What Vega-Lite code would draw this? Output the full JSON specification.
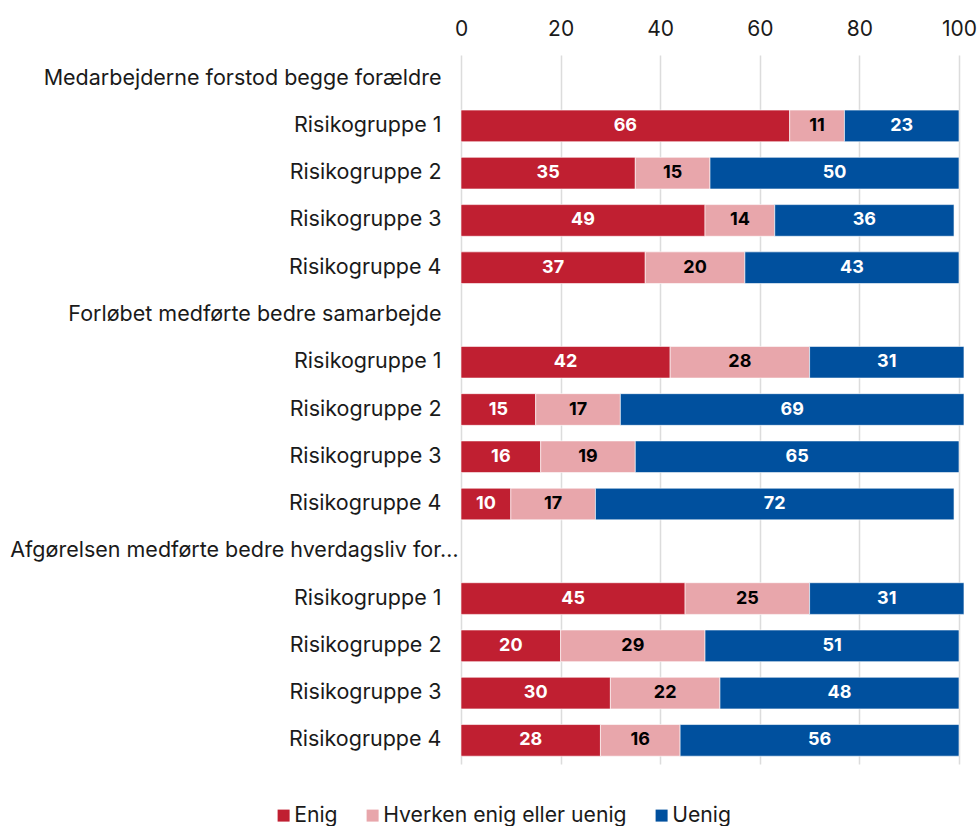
{
  "$schema": "https://vega.github.io/schema/vega-lite/v6.json",
  "width": 498,
  "height": 709,
  "autosize": {"type": "none"},
  "padding": {"left": 461, "top": 55, "right": 21, "bottom": 62},
  "background": "white",
  "config": {
    "font": "Inter",
    "view": {"stroke": null}
  },
  "datasets": {
    "rows": [
      {"row": "A|Medarbejderne forstod begge forældre", "cat": "Enig", "ord": 1, "value": null},
      {"row": "A1|Risikogruppe 1", "cat": "Enig", "ord": 1, "value": 66},
      {"row": "A1|Risikogruppe 1", "cat": "Hverken enig eller uenig", "ord": 2, "value": 11},
      {"row": "A1|Risikogruppe 1", "cat": "Uenig", "ord": 3, "value": 23},
      {"row": "A2|Risikogruppe 2", "cat": "Enig", "ord": 1, "value": 35},
      {"row": "A2|Risikogruppe 2", "cat": "Hverken enig eller uenig", "ord": 2, "value": 15},
      {"row": "A2|Risikogruppe 2", "cat": "Uenig", "ord": 3, "value": 50},
      {"row": "A3|Risikogruppe 3", "cat": "Enig", "ord": 1, "value": 49},
      {"row": "A3|Risikogruppe 3", "cat": "Hverken enig eller uenig", "ord": 2, "value": 14},
      {"row": "A3|Risikogruppe 3", "cat": "Uenig", "ord": 3, "value": 36},
      {"row": "A4|Risikogruppe 4", "cat": "Enig", "ord": 1, "value": 37},
      {"row": "A4|Risikogruppe 4", "cat": "Hverken enig eller uenig", "ord": 2, "value": 20},
      {"row": "A4|Risikogruppe 4", "cat": "Uenig", "ord": 3, "value": 43},
      {"row": "B1|Risikogruppe 1", "cat": "Enig", "ord": 1, "value": 42},
      {"row": "B1|Risikogruppe 1", "cat": "Hverken enig eller uenig", "ord": 2, "value": 28},
      {"row": "B1|Risikogruppe 1", "cat": "Uenig", "ord": 3, "value": 31},
      {"row": "B2|Risikogruppe 2", "cat": "Enig", "ord": 1, "value": 15},
      {"row": "B2|Risikogruppe 2", "cat": "Hverken enig eller uenig", "ord": 2, "value": 17},
      {"row": "B2|Risikogruppe 2", "cat": "Uenig", "ord": 3, "value": 69},
      {"row": "B3|Risikogruppe 3", "cat": "Enig", "ord": 1, "value": 16},
      {"row": "B3|Risikogruppe 3", "cat": "Hverken enig eller uenig", "ord": 2, "value": 19},
      {"row": "B3|Risikogruppe 3", "cat": "Uenig", "ord": 3, "value": 65},
      {"row": "B4|Risikogruppe 4", "cat": "Enig", "ord": 1, "value": 10},
      {"row": "B4|Risikogruppe 4", "cat": "Hverken enig eller uenig", "ord": 2, "value": 17},
      {"row": "B4|Risikogruppe 4", "cat": "Uenig", "ord": 3, "value": 72},
      {"row": "C1|Risikogruppe 1", "cat": "Enig", "ord": 1, "value": 45},
      {"row": "C1|Risikogruppe 1", "cat": "Hverken enig eller uenig", "ord": 2, "value": 25},
      {"row": "C1|Risikogruppe 1", "cat": "Uenig", "ord": 3, "value": 31},
      {"row": "C2|Risikogruppe 2", "cat": "Enig", "ord": 1, "value": 20},
      {"row": "C2|Risikogruppe 2", "cat": "Hverken enig eller uenig", "ord": 2, "value": 29},
      {"row": "C2|Risikogruppe 2", "cat": "Uenig", "ord": 3, "value": 51},
      {"row": "C3|Risikogruppe 3", "cat": "Enig", "ord": 1, "value": 30},
      {"row": "C3|Risikogruppe 3", "cat": "Hverken enig eller uenig", "ord": 2, "value": 22},
      {"row": "C3|Risikogruppe 3", "cat": "Uenig", "ord": 3, "value": 48},
      {"row": "C4|Risikogruppe 4", "cat": "Enig", "ord": 1, "value": 28},
      {"row": "C4|Risikogruppe 4", "cat": "Hverken enig eller uenig", "ord": 2, "value": 16},
      {"row": "C4|Risikogruppe 4", "cat": "Uenig", "ord": 3, "value": 56}
    ]
  },
  "data": {"name": "rows"},
  "encoding": {
    "y": {
      "field": "row",
      "type": "nominal",
      "scale": {
        "domain": [
          "A|Medarbejderne forstod begge forældre",
          "A1|Risikogruppe 1", "A2|Risikogruppe 2", "A3|Risikogruppe 3", "A4|Risikogruppe 4",
          "B|Forløbet medførte bedre samarbejde",
          "B1|Risikogruppe 1", "B2|Risikogruppe 2", "B3|Risikogruppe 3", "B4|Risikogruppe 4",
          "C|Afgørelsen medførte bedre hverdagsliv for…",
          "C1|Risikogruppe 1", "C2|Risikogruppe 2", "C3|Risikogruppe 3", "C4|Risikogruppe 4"
        ],
        "paddingInner": 0.33,
        "paddingOuter": 0.165
      },
      "axis": {
        "title": null,
        "labelExpr": "split(datum.value, '|')[1]",
        "labelFont": "Inter",
        "labelFontSize": 21.5,
        "labelColor": "#1a1a1a",
        "labelPadding": {"condition": {"test": "indexof(datum.value, 'C|') === 0", "value": 3}, "value": 20},
        "labelLimit": 470,
        "ticks": false,
        "domain": false,
        "grid": false
      }
    }
  },
  "layer": [
    {
      "mark": {"type": "bar", "stroke": "white", "strokeWidth": 0.6},
      "encoding": {
        "x": {
          "field": "value",
          "type": "quantitative",
          "stack": "zero",
          "scale": {"domain": [0, 100], "nice": false, "clamp": false},
          "axis": {
            "orient": "top",
            "title": null,
            "values": [0, 20, 40, 60, 80, 100],
            "labelFont": "Inter",
            "labelFontSize": 21,
            "labelColor": "#1a1a1a",
            "labelPadding": 16,
            "labelFlush": false,
            "ticks": false,
            "domain": false,
            "grid": true,
            "gridColor": "#dcdcdc",
            "gridWidth": 1.5
          }
        },
        "color": {
          "field": "cat",
          "type": "nominal",
          "scale": {
            "domain": ["Enig", "Hverken enig eller uenig", "Uenig"],
            "range": ["#c01f31", "#e8a6ab", "#00509e"]
          },
          "legend": {
            "title": null,
            "orient": "none",
            "direction": "horizontal",
            "gridAlign": "none",
            "legendX": -188,
            "legendY": 750,
            "symbolType": "square",
            "symbolSize": 144,
            "symbolStrokeWidth": 0,
            "labelFont": "Inter",
            "labelFontSize": 21.2,
            "labelColor": "#1a1a1a",
            "labelOffset": 0,
            "labelLimit": 400,
            "columnPadding": 24
          }
        },
        "order": {"field": "ord", "type": "quantitative"}
      }
    },
    {
      "mark": {"type": "text", "font": "Inter", "fontSize": 18, "fontWeight": "bold", "baseline": "middle"},
      "encoding": {
        "x": {"field": "value", "type": "quantitative", "stack": "zero", "bandPosition": 0.5},
        "detail": {"field": "cat", "type": "nominal"},
        "order": {"field": "ord", "type": "quantitative"},
        "text": {"field": "value", "type": "quantitative"},
        "color": {
          "condition": {"test": "datum.cat === 'Hverken enig eller uenig'", "value": "#000000"},
          "value": "#ffffff"
        }
      }
    }
  ]
}
